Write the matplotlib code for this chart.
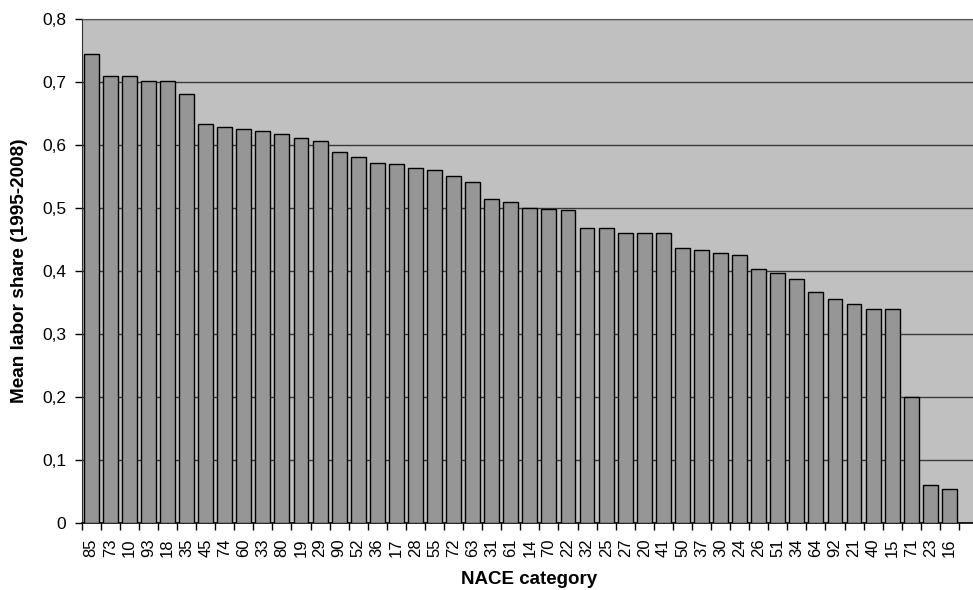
import matplotlib
matplotlib.use('Agg')
import matplotlib.pyplot as plt
import numpy as np

plt.rcParams['font.family'] = ['Liberation Sans', 'DejaVu Sans']

# NACE categories, sorted by mean labor share
categories = ['85', '73', '10', '93', '18', '35', '45', '74', '60', '33', '80', '19',
              '29', '90', '52', '36', '17', '28', '55', '72', '63', '31', '61', '14',
              '70', '22', '32', '25', '27', '20', '41', '50', '37', '30', '24', '26',
              '51', '34', '64', '92', '21', '40', '15', '71', '23', '16']
labor_share = [0.744, 0.710, 0.709, 0.702, 0.701, 0.680, 0.633, 0.628, 0.625, 0.622,
               0.618, 0.611, 0.607, 0.588, 0.581, 0.571, 0.570, 0.563, 0.560, 0.551,
               0.542, 0.514, 0.510, 0.500, 0.498, 0.497, 0.469, 0.468, 0.461, 0.461,
               0.460, 0.437, 0.434, 0.428, 0.425, 0.403, 0.397, 0.387, 0.367, 0.355,
               0.348, 0.340, 0.340, 0.201, 0.060, 0.054]
y_ticks = [0, 0.1, 0.2, 0.3, 0.4, 0.5, 0.6, 0.7, 0.8]
y_tick_labels = ['0', '0,1', '0,2', '0,3', '0,4', '0,5', '0,6', '0,7', '0,8']

W, H = 973, 590
left_px, top_px, bottom_px = 81.7, 18.8, 523.3

fig = plt.figure(figsize=(W / 100, H / 100), dpi=100)
ax = fig.add_axes([left_px / W, 1 - bottom_px / H, 1 - left_px / W, (bottom_px - top_px) / H])
ax.set_facecolor('#C0C0C0')

x = np.arange(len(categories))
ax.bar(x, labor_share, width=0.78, color='#969696', edgecolor='black',
       linewidth=1.0, zorder=3)

# plot area runs past the last category (picture is cropped at the right)
ax.set_xlim(-0.5, -0.5 + (W - left_px) / 19.07)
ax.set_ylim(0, 0.8)

ax.set_yticks(y_ticks)
ax.set_yticklabels(y_tick_labels, fontsize=12.5)
ax.yaxis.grid(True, color='#3a3a3a', linewidth=1.0, zorder=1)
ax.set_axisbelow(True)

# labels at bar centres, tick marks at category boundaries
ax.set_xticks(x)
ax.set_xticklabels(categories, rotation=90, fontsize=12)
ax.set_xticks(np.arange(-0.5, len(categories)), minor=True)
ax.tick_params(axis='x', which='major', length=0, pad=11)
ax.tick_params(axis='x', which='minor', length=5, width=1, direction='out', color='black')
ax.tick_params(axis='y', length=5, width=1, direction='out', color='black', pad=6)

ax.spines['right'].set_visible(False)
ax.spines['top'].set_color('#555555')
ax.spines['left'].set_color('#303030')
ax.spines['bottom'].set_color('black')
ax.spines['bottom'].set_linewidth(1.2)

ax.set_ylabel('Mean labor share (1995-2008)', fontsize=13.7, fontweight='bold')
ax.yaxis.set_label_coords(-(left_px - 28) / (W - left_px), 0.5)
ax.set_xlabel('NACE category', fontsize=13.5, fontweight='bold')
ax.xaxis.set_label_coords((529 - left_px) / (W - left_px), -(571 - bottom_px) / (bottom_px - top_px))

fig.savefig('out.png', dpi=100)
